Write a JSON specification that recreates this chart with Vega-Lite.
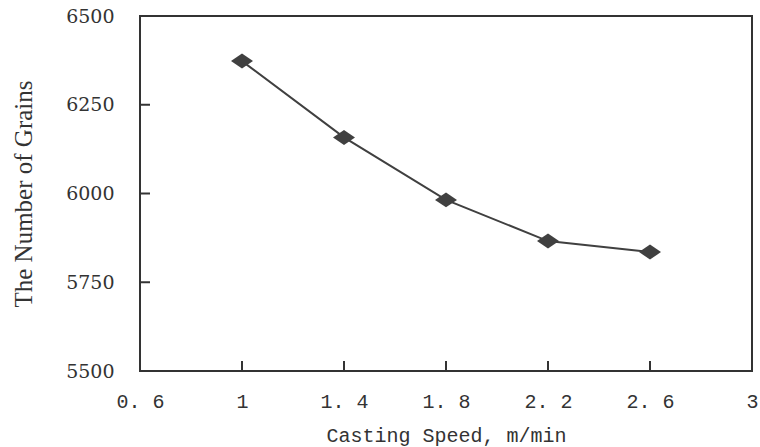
{
  "$schema": "https://vega.github.io/schema/vega-lite/v6.json",
  "width": 612,
  "height": 355,
  "autosize": "none",
  "padding": {"left": 140, "top": 16, "right": 8, "bottom": 76},
  "background": "white",
  "config": {
    "view": {"stroke": "#333333", "strokeWidth": 2},
    "axis": {
      "grid": false,
      "ticks": false,
      "domain": false,
      "labelFlush": false,
      "labelColor": "#333333",
      "titleColor": "#333333",
      "titleFontWeight": "normal"
    }
  },
  "datasets": {
    "points": [
      {"speed": 1.0, "grains": 6373},
      {"speed": 1.4, "grains": 6158},
      {"speed": 1.8, "grains": 5982},
      {"speed": 2.2, "grains": 5866},
      {"speed": 2.6, "grains": 5835}
    ],
    "xticks": [{"v": 1}, {"v": 1.4}, {"v": 1.8}, {"v": 2.2}, {"v": 2.6}],
    "yticks": [{"v": 5750}, {"v": 6000}, {"v": 6250}]
  },
  "layer": [
    {
      "data": {"name": "points"},
      "mark": {"type": "line", "color": "#404040", "strokeWidth": 2},
      "encoding": {
        "x": {
          "field": "speed", "type": "quantitative",
          "scale": {"domain": [0.6, 3], "nice": false, "zero": false},
          "axis": {
            "values": [0.6, 1, 1.4, 1.8, 2.2, 2.6, 3],
            "format": "~g",
            "title": "Casting Speed, m/min",
            "labelFont": "Liberation Mono",
            "labelFontSize": 20,
            "labelPadding": 20,
            "labelExpr": "replace(datum.label, '.', '. ')",
            "titleFont": "Liberation Mono",
            "titleFontSize": 20,
            "titlePadding": 14
          }
        },
        "y": {
          "field": "grains", "type": "quantitative",
          "scale": {"domain": [5500, 6500], "nice": false, "zero": false},
          "axis": {
            "values": [5500, 5750, 6000, 6250, 6500],
            "format": "d",
            "title": "The Number of Grains",
            "labelFont": "DejaVu Serif",
            "labelFontSize": 19,
            "labelPadding": 26,
            "titleFont": "Liberation Serif",
            "titleFontSize": 25,
            "titlePadding": 29
          }
        }
      }
    },
    {
      "data": {"name": "xticks"},
      "mark": {"type": "tick", "color": "#333333", "orient": "vertical", "size": 20, "thickness": 2, "opacity": 1, "clip": true},
      "encoding": {
        "x": {"field": "v", "type": "quantitative"},
        "y": {"datum": 5500, "type": "quantitative"}
      }
    },
    {
      "data": {"name": "yticks"},
      "mark": {"type": "tick", "color": "#333333", "orient": "horizontal", "size": 20, "thickness": 2, "opacity": 1, "clip": true},
      "encoding": {
        "x": {"datum": 0.6, "type": "quantitative"},
        "y": {"field": "v", "type": "quantitative"}
      }
    },
    {
      "data": {"name": "points"},
      "mark": {"type": "point", "filled": true, "opacity": 1, "color": "#404040", "shape": "M-1,0L0,-0.68L1,0L0,0.68Z", "size": 484},
      "encoding": {
        "x": {"field": "speed", "type": "quantitative"},
        "y": {"field": "grains", "type": "quantitative"}
      }
    }
  ]
}
